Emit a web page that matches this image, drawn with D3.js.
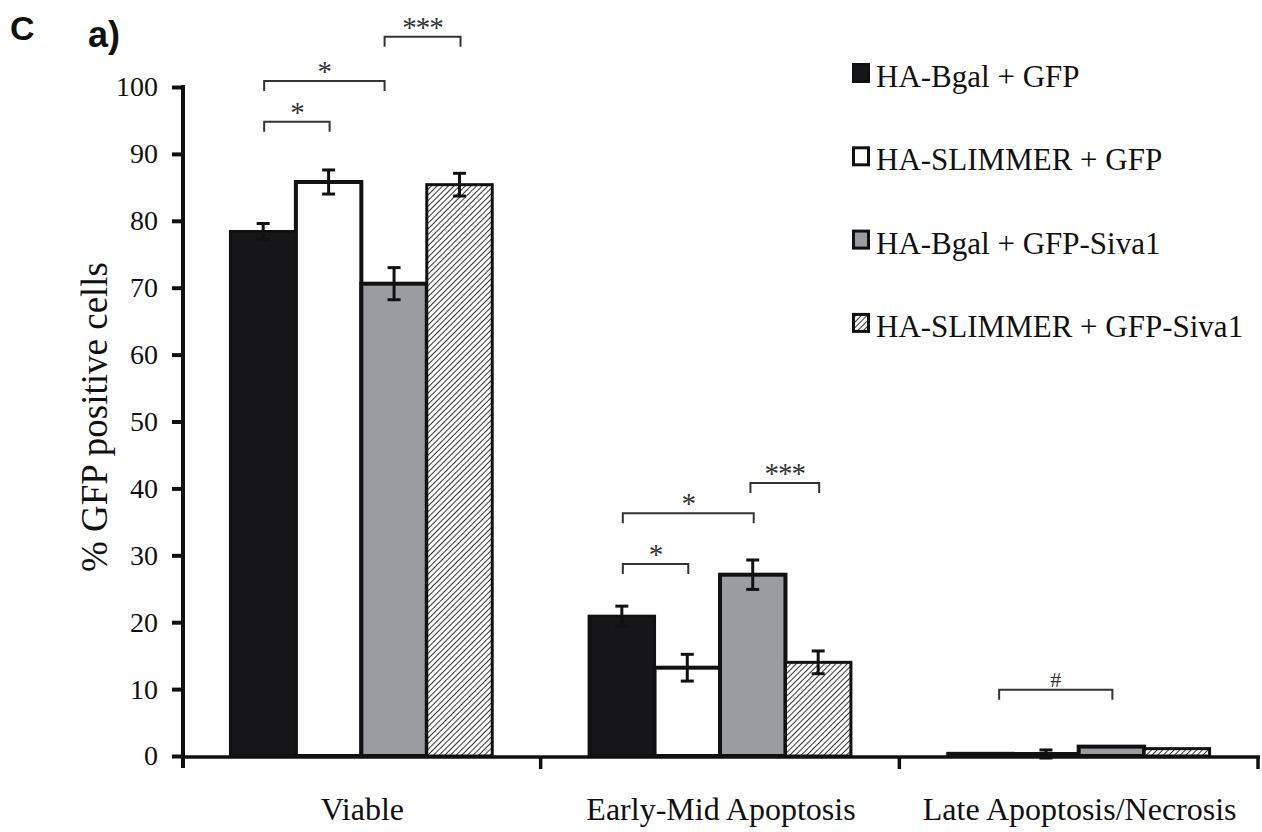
<!DOCTYPE html>
<html>
<head>
<meta charset="utf-8">
<script src="https://cdn.jsdelivr.net/npm/d3@7"></script>
<style>
  html, body { margin: 0; padding: 0; background: #fff; }
  svg { display: block; }
</style>
</head>
<body>
<svg id="chart" width="1262" height="832"></svg>
<script>
// ---------- data ----------
const categories = ["Viable", "Early-Mid Apoptosis", "Late Apoptosis/Necrosis"];
const seriesNames = ["HA-Bgal + GFP", "HA-SLIMMER + GFP", "HA-Bgal + GFP-Siva1", "HA-SLIMMER + GFP-Siva1"];

const valBgalGFP   = [78.4, 20.9, 0.4];
const valSlimGFP   = [85.8, 13.2, 0.3];
const valBgalSiva  = [70.6, 27.1, 1.4];
const valSlimSiva  = [85.4, 14.0, 1.1];

const errBgalGFP   = [1.2, 1.5, 0];
const errSlimGFP   = [1.8, 2.0, 0.6];
const errBgalSiva  = [2.4, 2.2, 0];
const errSlimSiva  = [1.7, 1.7, 0];

const yTicks = [0, 10, 20, 30, 40, 50, 60, 70, 80, 90, 100];
const yLabel = "% GFP positive cells";

// significance brackets: category index, from/to series position, level (data units), label
const bracketCategory = [0, 0, 0, 1, 1, 1, 2];
const bracketFrom     = [0, 0, 1.84, 0, 0, 1.95, 0.27];
const bracketTo       = [1, 1.84, 3, 1, 2, 3, 2];
const bracketLevel    = [94.8, 100.9, 107.5, 28.7, 36.3, 40.8, 9.9];
const bracketLabel    = ["*", "*", "***", "*", "*", "***", "#"];

// ---------- setup ----------
const values = [valBgalGFP, valSlimGFP, valBgalSiva, valSlimSiva];
const errors = [errBgalGFP, errSlimGFP, errBgalSiva, errSlimSiva];
const fills = ["#161618", "#ffffff", "#9a9ca0", "url(#hatch)"];
const strokeW = [3, 4, 4, 3];

const svg = d3.select("#chart");
const serif = "'Liberation Serif', 'Times New Roman', serif";

const defs = svg.append("defs");
const pat = defs.append("pattern")
  .attr("id", "hatch").attr("patternUnits", "userSpaceOnUse")
  .attr("width", 4).attr("height", 4)
  .attr("patternTransform", "rotate(45)");
pat.append("rect").attr("width", 4).attr("height", 4).attr("fill", "#fff");
pat.append("line").attr("x1", 0).attr("y1", 0).attr("x2", 0).attr("y2", 4)
  .attr("stroke", "#111").attr("stroke-width", 1.7);

const x = d3.scaleBand().domain(categories).range([183, 1259]).padding(0);
const xi = d3.scaleBand().domain(d3.range(seriesNames.length))
  .range([0, x.bandwidth()]).paddingInner(0).paddingOuter(0.74);
const y = d3.scaleLinear().domain([0, 100]).range([756, 87]);
const bw = xi.bandwidth();

// ---------- bars ----------
const barData = [];
categories.forEach((c, ci) => {
  seriesNames.forEach((s, si) => {
    barData.push({ c, ci, si, v: values[si][ci], e: errors[si][ci] });
  });
});

svg.append("g").selectAll("rect").data(barData).join("rect")
  .attr("x", d => x(d.c) + xi(d.si) - 1)
  .attr("y", d => y(d.v))
  .attr("width", bw)
  .attr("height", d => y(0) - y(d.v))
  .attr("fill", d => fills[d.si])
  .attr("stroke", "#111")
  .attr("stroke-width", d => strokeW[d.si]);

// error bars
const eg = svg.append("g").attr("stroke", "#111").attr("stroke-width", 3);
barData.filter(d => d.e > 0).forEach(d => {
  const cx = x(d.c) + xi(d.si) - 1 + bw / 2;
  eg.append("line").attr("x1", cx).attr("x2", cx).attr("y1", y(d.v - d.e)).attr("y2", y(d.v + d.e));
  eg.append("line").attr("x1", cx - 6.5).attr("x2", cx + 6.5).attr("y1", y(d.v + d.e)).attr("y2", y(d.v + d.e));
  eg.append("line").attr("x1", cx - 6.5).attr("x2", cx + 6.5).attr("y1", y(d.v - d.e)).attr("y2", y(d.v - d.e));
});

// ---------- axes ----------
const yAxis = d3.axisLeft(y).tickValues(yTicks).tickSize(11).tickPadding(14);
const yg = svg.append("g").attr("transform", "translate(183,0)").call(yAxis);
yg.select(".domain").remove();
yg.selectAll(".tick line").attr("stroke", "#111").attr("stroke-width", 4);
yg.selectAll(".tick text").attr("font-family", serif).attr("font-size", 28).attr("fill", "#111");
svg.append("line").attr("x1", 183).attr("x2", 183).attr("y1", y(100) - 2).attr("y2", 768)
  .attr("stroke", "#111").attr("stroke-width", 4);

// x axis line + ticks at band edges
svg.append("line").attr("x1", 181).attr("x2", 1260).attr("y1", 757).attr("y2", 757)
  .attr("stroke", "#111").attr("stroke-width", 3.5);
const edges = categories.map(c => x(c)).concat([x.range()[1]]);
svg.append("g").selectAll("line").data(edges.slice(1)).join("line")
  .attr("x1", d => d - 1).attr("x2", d => d - 1).attr("y1", 757).attr("y2", 769)
  .attr("stroke", "#111").attr("stroke-width", 3.5);

svg.append("g").selectAll("text").data(categories).join("text")
  .attr("x", d => x(d) + x.bandwidth() / 2)
  .attr("y", 820)
  .attr("text-anchor", "middle")
  .attr("font-family", serif).attr("font-size", 32).attr("fill", "#111")
  .text(d => d);

svg.append("text")
  .attr("transform", "translate(107,417) rotate(-90)")
  .attr("text-anchor", "middle")
  .attr("font-family", serif).attr("font-size", 37).attr("fill", "#111")
  .text(yLabel);

// ---------- significance brackets ----------
const bg = svg.append("g");
bracketLabel.forEach((lab, i) => {
  const c = categories[bracketCategory[i]];
  const xa = x(c) + xi(0) + bracketFrom[i] * bw + bw / 2;
  const xb = x(c) + xi(0) + bracketTo[i] * bw + bw / 2;
  const yy = y(bracketLevel[i]);
  bg.append("path")
    .attr("d", `M${xa},${yy + 10}V${yy}H${xb}V${yy + 10}`)
    .attr("fill", "none").attr("stroke", "#333").attr("stroke-width", 2);
  const isHash = lab === "#";
  bg.append("text")
    .attr("x", (xa + xb) / 2)
    .attr("y", isHash ? yy - 3 : yy)
    .attr("text-anchor", "middle")
    .attr("font-family", serif).attr("font-size", isHash ? 22 : 29)
    .attr("letter-spacing", isHash ? 0 : -1)
    .attr("fill", "#333")
    .text(lab);
});

// ---------- legend ----------
const lg = svg.append("g").attr("transform", "translate(852,63)");
seriesNames.forEach((s, i) => {
  const row = lg.append("g").attr("transform", `translate(0,${i * 83.3})`);
  row.append("rect").attr("x", 1.5).attr("y", 1.5).attr("width", 15).attr("height", 17)
    .attr("fill", fills[i]).attr("stroke", "#111").attr("stroke-width", 3);
  row.append("text").attr("x", 24).attr("y", 24)
    .attr("font-family", serif).attr("font-size", 31).attr("fill", "#111")
    .text(s);
});

// ---------- panel labels ----------
svg.append("text").attr("x", 10).attr("y", 40)
  .attr("font-family", "'Liberation Sans', Arial, sans-serif").attr("font-weight", "bold")
  .attr("font-size", 34).attr("fill", "#111").text("C");
svg.append("text").attr("x", 88).attr("y", 47)
  .attr("font-family", "'Liberation Sans', Arial, sans-serif").attr("font-weight", "bold")
  .attr("font-size", 36).attr("fill", "#111").text("a)");
</script>
</body>
</html>
